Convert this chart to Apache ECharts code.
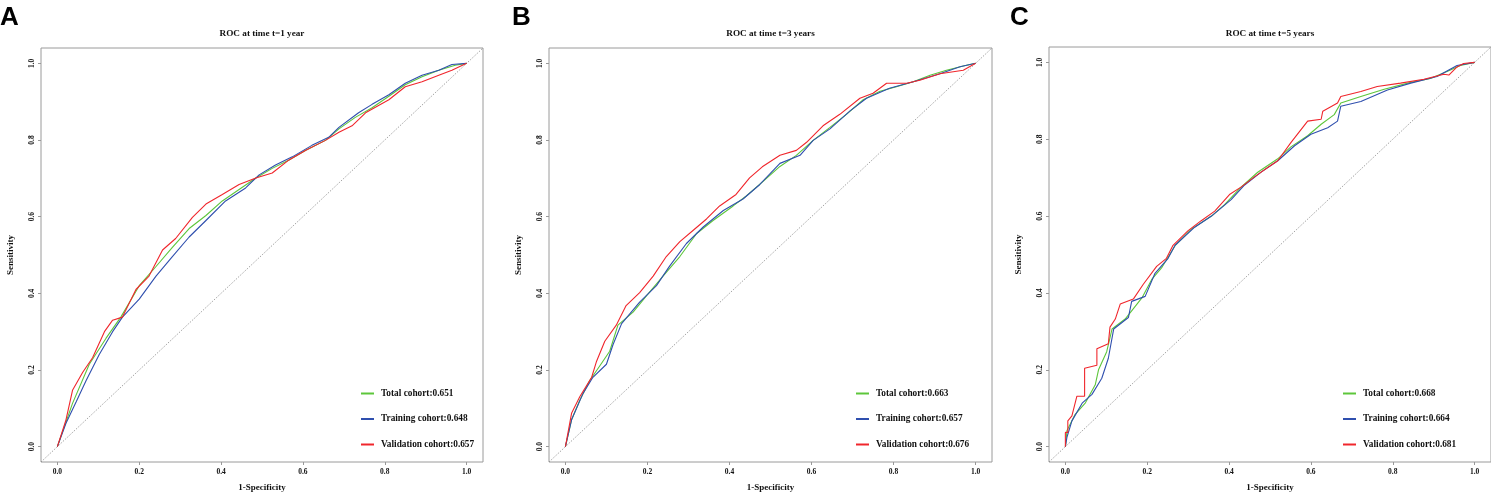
<!DOCTYPE html>
<html>
<head>
<meta charset="utf-8">
<script src="https://cdn.jsdelivr.net/npm/echarts@6/dist/echarts.min.js"></script>
<style>
  html, body { margin: 0; padding: 0; background: #fff; }
  #chart { width: 1491px; height: 497px; }
</style>
</head>
<body>
<div id="chart"></div>
<script>
// panel titles and legend labels
var panelLetters = ['A', 'B', 'C'];
var panelTitles = ['ROC at time t=1 year', 'ROC at time t=3 years', 'ROC at time t=5 years'];
var cohortNames = ['Total cohort', 'Training cohort', 'Validation cohort'];
var aucA = ['0.651', '0.648', '0.657'];
var aucB = ['0.663', '0.657', '0.676'];
var aucC = ['0.668', '0.664', '0.681'];
var tickValues = [0, 0.2, 0.4, 0.6, 0.8, 1.0];

// t=1 year  [1-specificity, sensitivity]
var rocA_total = [[0,0],[0.037,0.113],[0.078,0.215],[0.119,0.283],[0.155,0.338],[0.2,0.42],[0.241,0.47],
  [0.281,0.52],[0.322,0.569],[0.363,0.603],[0.403,0.641],[0.444,0.671],[0.485,0.701],[0.525,0.726],
  [0.566,0.748],[0.607,0.773],[0.655,0.799],[0.688,0.829],[0.728,0.859],[0.769,0.884],[0.81,0.914],
  [0.85,0.944],[0.891,0.965],[0.932,0.982],[0.972,0.995],[1,1]];
var rocA_train = [[0,0],[0.021,0.061],[0.046,0.117],[0.07,0.172],[0.102,0.24],[0.135,0.3],[0.159,0.338],
  [0.2,0.385],[0.241,0.445],[0.281,0.496],[0.322,0.547],[0.363,0.59],[0.411,0.641],[0.46,0.675],
  [0.493,0.709],[0.533,0.735],[0.574,0.756],[0.622,0.786],[0.663,0.807],[0.688,0.833],[0.736,0.871],
  [0.769,0.893],[0.81,0.918],[0.85,0.948],[0.891,0.969],[0.932,0.982],[0.964,0.997],[1,1]];
var rocA_valid = [[0,0],[0.021,0.07],[0.037,0.147],[0.062,0.194],[0.086,0.232],[0.115,0.3],[0.135,0.33],
  [0.159,0.338],[0.192,0.41],[0.224,0.445],[0.257,0.513],[0.289,0.543],[0.33,0.598],[0.363,0.633],
  [0.403,0.658],[0.444,0.684],[0.485,0.701],[0.525,0.714],[0.566,0.748],[0.607,0.773],[0.655,0.799],
  [0.688,0.82],[0.72,0.837],[0.753,0.871],[0.81,0.905],[0.85,0.939],[0.891,0.952],[0.932,0.969],
  [0.964,0.982],[1,1]];

// t=3 years
var rocB_total = [[0,0],[0.015,0.07],[0.035,0.121],[0.059,0.172],[0.084,0.211],[0.108,0.249],[0.128,0.317],
  [0.165,0.351],[0.198,0.394],[0.238,0.445],[0.279,0.496],[0.32,0.556],[0.36,0.59],[0.409,0.628],
  [0.441,0.654],[0.482,0.692],[0.523,0.731],[0.563,0.76],[0.604,0.799],[0.645,0.833],[0.685,0.867],
  [0.726,0.905],[0.767,0.927],[0.807,0.939],[0.848,0.952],[0.889,0.969],[0.929,0.982],[0.97,0.993],[1,1]];
var rocB_train = [[0,0],[0.015,0.07],[0.043,0.139],[0.067,0.181],[0.1,0.215],[0.116,0.266],[0.137,0.321],
  [0.181,0.377],[0.222,0.42],[0.254,0.471],[0.295,0.53],[0.336,0.573],[0.385,0.616],[0.433,0.646],
  [0.474,0.684],[0.523,0.739],[0.572,0.76],[0.604,0.799],[0.645,0.829],[0.694,0.876],[0.734,0.909],
  [0.79,0.935],[0.848,0.952],[0.913,0.973],[0.962,0.991],[1,1]];
var rocB_valid = [[0,0],[0.015,0.087],[0.035,0.13],[0.064,0.181],[0.076,0.223],[0.096,0.275],[0.124,0.317],
  [0.148,0.368],[0.181,0.402],[0.214,0.445],[0.246,0.496],[0.279,0.535],[0.311,0.564],[0.344,0.594],
  [0.376,0.628],[0.416,0.658],[0.449,0.701],[0.48,0.73],[0.523,0.76],[0.563,0.773],[0.588,0.794],
  [0.628,0.837],[0.669,0.867],[0.718,0.909],[0.75,0.922],[0.783,0.948],[0.832,0.948],[0.864,0.956],
  [0.913,0.973],[0.97,0.982],[1,1]];

// t=5 years
var rocC_total = [[0,0],[0.004,0.042],[0.024,0.084],[0.049,0.114],[0.073,0.161],[0.081,0.2],[0.101,0.247],
  [0.114,0.306],[0.146,0.332],[0.187,0.387],[0.211,0.435],[0.235,0.465],[0.268,0.523],[0.308,0.566],
  [0.357,0.6],[0.389,0.63],[0.43,0.676],[0.47,0.714],[0.519,0.749],[0.551,0.78],[0.592,0.809],
  [0.625,0.839],[0.657,0.864],[0.673,0.894],[0.722,0.911],[0.779,0.93],[0.844,0.948],[0.892,0.958],
  [0.941,0.98],[0.965,0.992],[1,1]];
var rocC_train = [[0,0],[0.004,0.025],[0.016,0.067],[0.041,0.113],[0.065,0.136],[0.089,0.178],[0.105,0.23],
  [0.118,0.306],[0.154,0.336],[0.162,0.378],[0.195,0.391],[0.219,0.451],[0.251,0.49],[0.268,0.524],
  [0.316,0.571],[0.357,0.6],[0.405,0.643],[0.438,0.681],[0.479,0.715],[0.519,0.744],[0.56,0.783],
  [0.6,0.813],[0.641,0.83],[0.665,0.847],[0.673,0.886],[0.722,0.898],[0.787,0.928],[0.844,0.946],
  [0.908,0.963],[0.957,0.992],[1,1]];
var rocC_valid = [[0,0],[0,0.037],[0.006,0.037],[0.006,0.067],[0.016,0.08],[0.028,0.131],[0.047,0.131],
  [0.047,0.204],[0.077,0.212],[0.077,0.255],[0.105,0.268],[0.109,0.311],[0.122,0.332],[0.134,0.371],
  [0.166,0.384],[0.19,0.422],[0.223,0.469],[0.247,0.49],[0.263,0.524],[0.3,0.562],[0.332,0.588],
  [0.365,0.613],[0.401,0.656],[0.43,0.676],[0.462,0.702],[0.49,0.723],[0.519,0.744],[0.551,0.791],
  [0.592,0.847],[0.625,0.852],[0.629,0.873],[0.665,0.894],[0.673,0.911],[0.722,0.924],[0.762,0.937],
  [0.819,0.946],[0.876,0.956],[0.925,0.969],[0.937,0.967],[0.957,0.988],[0.973,0.997],[1,1]];

var diagonal = [[-0.04,-0.04],[1.04,1.04]];

var colors = ['#5dc63b', '#2f4fae', '#f0262c'];
var serif = '"Liberation Serif", "Times New Roman", serif';
var sans = '"Liberation Sans", Arial, sans-serif';

var panels = [
  { auc: aucA, curves: [rocA_total, rocA_train, rocA_valid], grid: { left: 41, top: 48, width: 442, height: 422 }, legendLeft: 356, letterLeft: 0 },
  { auc: aucB, curves: [rocB_total, rocB_train, rocB_valid], grid: { left: 549, top: 48, width: 443, height: 422 }, legendLeft: 851, letterLeft: 512 },
  { auc: aucC, curves: [rocC_total, rocC_train, rocC_valid], grid: { left: 1049, top: 47, width: 442, height: 422 }, legendLeft: 1338, letterLeft: 1010 }
];

var myChart = echarts.init(document.getElementById('chart'));

var option = {
  backgroundColor: '#fff',
  animation: false,
  grid: [],
  xAxis: [],
  yAxis: [],
  legend: [],
  series: [],
  graphic: []
};

function tickLabel(v) { return v.toFixed(1); }

panels.forEach(function (p, i) {
  option.grid.push({
    left: p.grid.left, top: p.grid.top, width: p.grid.width, height: p.grid.height,
    show: true, borderColor: '#9a9a9a', borderWidth: 1
  });
  option.xAxis.push({
    gridIndex: i, type: 'value', min: -0.04, max: 1.04,
    name: '1-Specificity', nameLocation: 'middle', nameGap: 21,
    nameTextStyle: { fontFamily: serif, fontWeight: 'bold', fontSize: 9, color: '#111' },
    axisLine: { show: false, onZero: false },
    splitLine: { show: false },
    axisTick: { show: true, length: 3, customValues: tickValues, lineStyle: { color: '#999' } },
    axisLabel: { customValues: tickValues, margin: 6, fontFamily: serif, fontWeight: 'bold', fontSize: 7.5, color: '#111', formatter: tickLabel }
  });
  option.yAxis.push({
    gridIndex: i, type: 'value', min: -0.04, max: 1.04,
    name: 'Sensitivity', nameLocation: 'middle', nameGap: 26, nameRotate: 90,
    nameTextStyle: { fontFamily: serif, fontWeight: 'bold', fontSize: 9, color: '#111' },
    axisLine: { show: false, onZero: false },
    splitLine: { show: false },
    axisTick: { show: true, length: 3, customValues: tickValues, lineStyle: { color: '#999' } },
    axisLabel: { customValues: tickValues, margin: 5, rotate: 90, fontFamily: serif, fontWeight: 'bold', fontSize: 7.5, color: '#111', formatter: tickLabel }
  });

  // reference line
  option.series.push({
    type: 'line', xAxisIndex: i, yAxisIndex: i, data: diagonal, symbol: 'none', silent: true,
    lineStyle: { color: '#8c8c8c', width: 0.8, type: [1.5, 1.5] }, z: 1
  });

  var names = [];
  p.curves.forEach(function (curve, k) {
    var name = cohortNames[k] + ':' + p.auc[k];
    names.push(name);
    option.series.push({
      name: name, type: 'line', xAxisIndex: i, yAxisIndex: i, data: curve,
      symbol: 'none', color: colors[k],
      lineStyle: { color: colors[k], width: 1.1 }, z: 2 + k
    });
  });

  option.legend.push({
    data: names, orient: 'vertical', left: p.legendLeft, top: 384,
    itemWidth: 13, itemHeight: 2, itemGap: 16.5, icon: 'rect',
    textStyle: { fontFamily: serif, fontWeight: 'bold', fontSize: 9.3, color: '#111', padding: [0, 0, 0, 2] },
    selectedMode: false
  });

  option.graphic.push({
    type: 'text', x: p.grid.left + p.grid.width / 2, y: 34, silent: true,
    style: { text: panelTitles[i], font: 'bold 9.2px ' + serif, fill: '#111', align: 'center', verticalAlign: 'middle' }
  });
  option.graphic.push({
    type: 'text', x: p.letterLeft, y: 18, silent: true,
    style: { text: panelLetters[i], font: 'bold 26px ' + sans, fill: '#000', align: 'left', verticalAlign: 'middle' }
  });
});

myChart.setOption(option);
</script>
</body>
</html>
